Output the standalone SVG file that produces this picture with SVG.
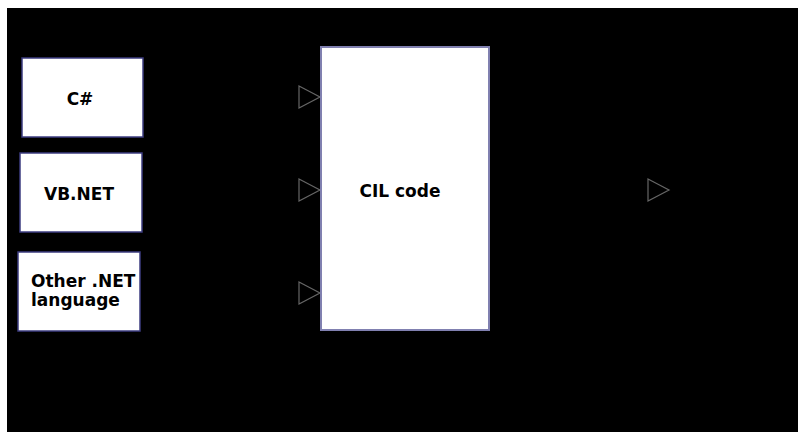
<svg xmlns="http://www.w3.org/2000/svg" width="798" height="432" viewBox="0 0 798 432">
  <style>
    .box { fill: #ffffff; stroke: #3c3c80; stroke-width: 1.5; }
    .big { fill: #ffffff; stroke: #8080b0; stroke-width: 2; }
    .lbl { font-family: "DejaVu Sans", "Verdana", sans-serif; font-weight: bold; font-size: 17px; fill: #000; }
    .conn { stroke: #000000; stroke-width: 1; fill: none; marker-end: url(#arr); }
  </style>
  <defs>
    <marker id="arr" markerUnits="userSpaceOnUse" markerWidth="24" markerHeight="26" refX="22" refY="12" orient="auto" viewBox="0 0 24 26">
      <path d="M1,1 L22,12 L1,23 Z" fill="none" stroke="#666666" stroke-width="1.2"/>
    </marker>
  </defs>
  <rect x="0" y="0" width="798" height="432" fill="#ffffff"/>
  <rect x="7" y="8" width="791" height="424" fill="#000000"/>
  <g id="connectors">
    <line class="conn" x1="143" y1="97" x2="320" y2="97"/>
    <line class="conn" x1="142" y1="190" x2="320" y2="190"/>
    <line class="conn" x1="140" y1="293" x2="320" y2="293"/>
    <line class="conn" x1="490" y1="190" x2="669" y2="190"/>
  </g>
  <g id="csharp">
    <rect class="box" x="22" y="58" width="121" height="79"/>
    <text class="lbl" x="80" y="105" text-anchor="middle">C#</text>
  </g>
  <g id="vbnet">
    <rect class="box" x="20" y="153" width="122" height="79"/>
    <text class="lbl" x="79" y="200" text-anchor="middle">VB.NET</text>
  </g>
  <g id="other">
    <rect class="box" x="18" y="252" width="122" height="79"/>
    <text class="lbl" x="31" y="287">Other .NET</text>
    <text class="lbl" x="31" y="306">language</text>
  </g>
  <g id="cil">
    <rect class="big" x="321" y="47" width="168" height="283"/>
    <text class="lbl" x="400" y="197" text-anchor="middle">CIL code</text>
  </g>
</svg>
